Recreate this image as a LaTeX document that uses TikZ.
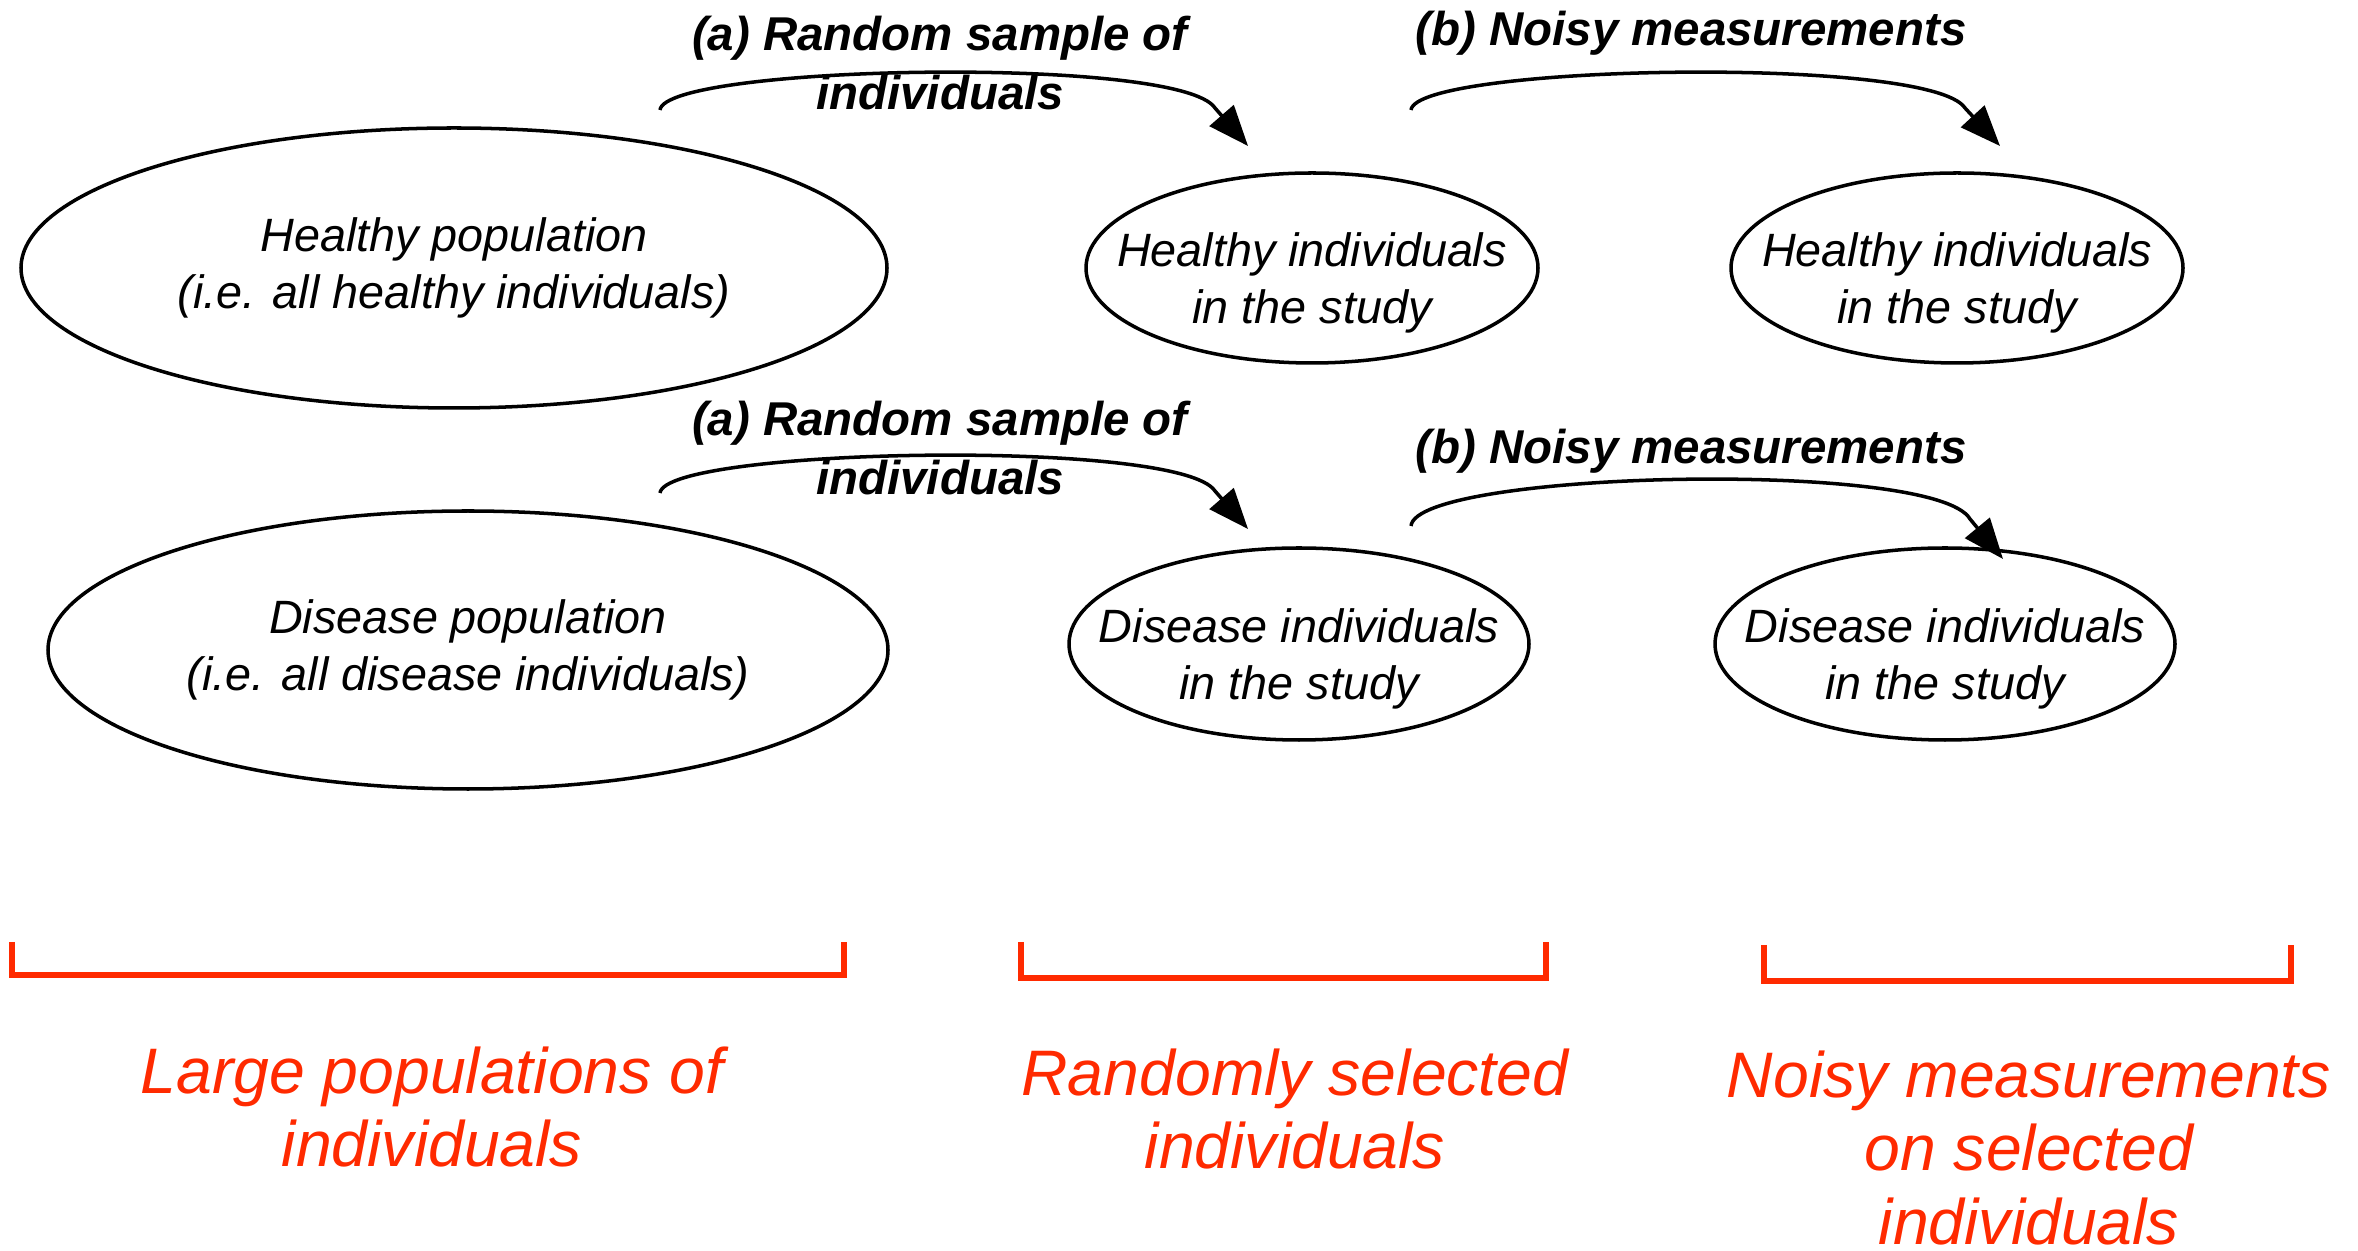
\documentclass[tikz,border=0pt]{standalone}
\usepackage{fontspec}
\setmainfont{Liberation Sans}
\usetikzlibrary{arrows.meta,shapes.geometric}

\begin{document}
\begin{tikzpicture}[
    popNode/.style={draw, ellipse, line width=1pt, inner sep=-0.5cm, align=center,
        font=\itshape\fontsize{13.3}{16.2}\selectfont},
    popText/.style={align=center, inner sep=0pt, font=\itshape\fontsize{13.3}{16.2}\selectfont},
    stepLabel/.style={align=center, font=\bfseries\itshape\fontsize{13.5}{17}\selectfont},
    stepArrow/.style={line width=1pt, -{Triangle[length=11.5pt,width=9pt]}},
    bracket/.style={draw=bracketColour, line width=1.7pt},
    groupLabel/.style={align=center, text=bracketColour, font=\itshape\fontsize{18.3}{21}\selectfont}
]
    \definecolor{bracketColour}{HTML}{FF2A00}

    \useasboundingbox (0,0) rectangle (23.58,-12.51);

    % Populations and selected individuals
    \node[popNode, minimum width=8.66cm, minimum height=2.80cm] (healthyPop) at (4.54,-2.68)
        {Healthy population\\(i.e. all healthy individuals)};
    \node[popNode, minimum width=4.52cm, minimum height=1.90cm,
        label={[popText, yshift=-0.15cm]center:{Healthy individuals\\in the study}}] (healthySel) at (13.12,-2.68) {};
    \node[popNode, minimum width=4.52cm, minimum height=1.90cm,
        label={[popText, yshift=-0.15cm]center:{Healthy individuals\\in the study}}] (healthyMeas) at (19.57,-2.68) {};

    \node[popNode, minimum width=8.40cm, minimum height=2.78cm] (diseasePop) at (4.68,-6.50)
        {Disease population\\(i.e. all disease individuals)};
    \node[popNode, minimum width=4.60cm, minimum height=1.92cm,
        label={[popText, yshift=-0.15cm]center:{Disease individuals\\in the study}}] (diseaseSel) at (12.99,-6.44) {};
    \node[popNode, minimum width=4.60cm, minimum height=1.92cm,
        label={[popText, yshift=-0.15cm]center:{Disease individuals\\in the study}}] (diseaseMeas) at (19.45,-6.44) {};

    % Step (a): random sample
    \coordinate (aTopStart) at (6.60,-1.10);
    \coordinate (aTopBend) at (12.15,-1.08);
    \coordinate (aTopEnd) at (12.48,-1.46);
    \draw[stepArrow] (aTopStart) .. controls +(0.05,0.45) and +(-0.35,0.53) .. (aTopBend) -- (aTopEnd);
    \node[stepLabel] (aTopLabel) at (9.40,-0.63) {(a) Random sample of\\individuals};

    \coordinate (aBotStart) at (6.60,-4.93);
    \coordinate (aBotBend) at (12.15,-4.91);
    \coordinate (aBotEnd) at (12.48,-5.29);
    \draw[stepArrow] (aBotStart) .. controls +(0.05,0.45) and +(-0.35,0.53) .. (aBotBend) -- (aBotEnd);
    \node[stepLabel] (aBotLabel) at (9.40,-4.48) {(a) Random sample of\\individuals};

    % Step (b): noisy measurements
    \coordinate (bTopStart) at (14.11,-1.10);
    \coordinate (bTopBend) at (19.65,-1.08);
    \coordinate (bTopEnd) at (20.00,-1.46);
    \draw[stepArrow] (bTopStart) .. controls +(0.05,0.45) and +(-0.35,0.53) .. (bTopBend) -- (bTopEnd);
    \node[stepLabel] (bTopLabel) at (16.91,-0.33) {(b) Noisy measurements};

    \coordinate (bBotStart) at (14.11,-5.26);
    \coordinate (bBotBend) at (19.70,-5.19);
    \coordinate (bBotEnd) at (20.03,-5.59);
    \draw[stepArrow] (bBotStart) .. controls +(0.05,0.55) and +(-0.35,0.60) .. (bBotBend) -- (bBotEnd);
    \node[stepLabel] (bBotLabel) at (16.91,-4.51) {(b) Noisy measurements};

    % Brackets
    \draw[bracket] (0.12,-9.42) |- (8.44,-9.75) -- (8.44,-9.42);
    \draw[bracket] (10.21,-9.42) |- (15.46,-9.78) -- (15.46,-9.42);
    \draw[bracket] (17.64,-9.45) |- (22.91,-9.81) -- (22.91,-9.45);

    \node[groupLabel] (popText) at (4.32,-11.07) {Large populations of\\individuals};
    \node[groupLabel] (selText) at (12.95,-11.09) {Randomly selected\\individuals};
    \node[groupLabel] (measText) at (20.29,-11.48) {Noisy measurements\\on selected\\individuals};

\end{tikzpicture}
\end{document}
